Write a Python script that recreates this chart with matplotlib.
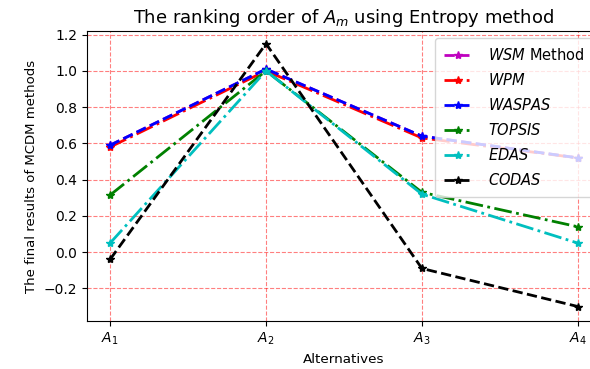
import matplotlib
matplotlib.use("Agg")
import matplotlib.pyplot as plt

alternatives = ["$A_1$", "$A_2$", "$A_3$", "$A_4$"]
wsm = [0.59, 1.01, 0.64, 0.52]
wpm = [0.58, 1.00, 0.63, 0.52]
waspas = [0.59, 1.01, 0.64, 0.52]
topsis = [0.315, 1.00, 0.33, 0.14]
edas = [0.05, 1.00, 0.32, 0.05]
codas = [-0.04, 1.15, -0.09, -0.30]

fig = plt.figure(figsize=(5.9, 3.69), dpi=100)
ax = fig.add_axes([0.147, 0.130, 0.872, 0.786])
x = list(range(len(alternatives)))
ax.plot(x, wsm, "m*--", lw=2, label="$WSM$ Method")
ax.plot(x, wpm, "r*-.", lw=2, label="$WPM$")
ax.plot(x, waspas, "b*--", lw=2, label="$WASPAS$")
ax.plot(x, topsis, "g*-.", lw=2, label="$TOPSIS$")
ax.plot(x, edas, "c*-.", lw=2, label="$EDAS$")
ax.plot(x, codas, "k*--", lw=2, label="$CODAS$")
ax.set_xticks(x)
ax.set_xticklabels(alternatives)
ax.set_ylim(-0.38, 1.22)
ax.set_xlim(-0.15, 3.15)
ax.grid(True, color="red", linestyle="--", alpha=0.5)
ax.set_title("The ranking order of $A_m$ using Entropy method", fontsize=13)
ax.set_xlabel("Alternatives", fontsize=9.7)
ax.set_ylabel("The final results of MCDM methods", fontsize=9.5)
ax.legend(loc="upper right", bbox_to_anchor=(0.998, 1.0), fontsize=10.5,
          labelspacing=0.62, handlelength=1.9, handletextpad=1.1, borderpad=0.6)
fig.savefig("out.png", dpi=100)
